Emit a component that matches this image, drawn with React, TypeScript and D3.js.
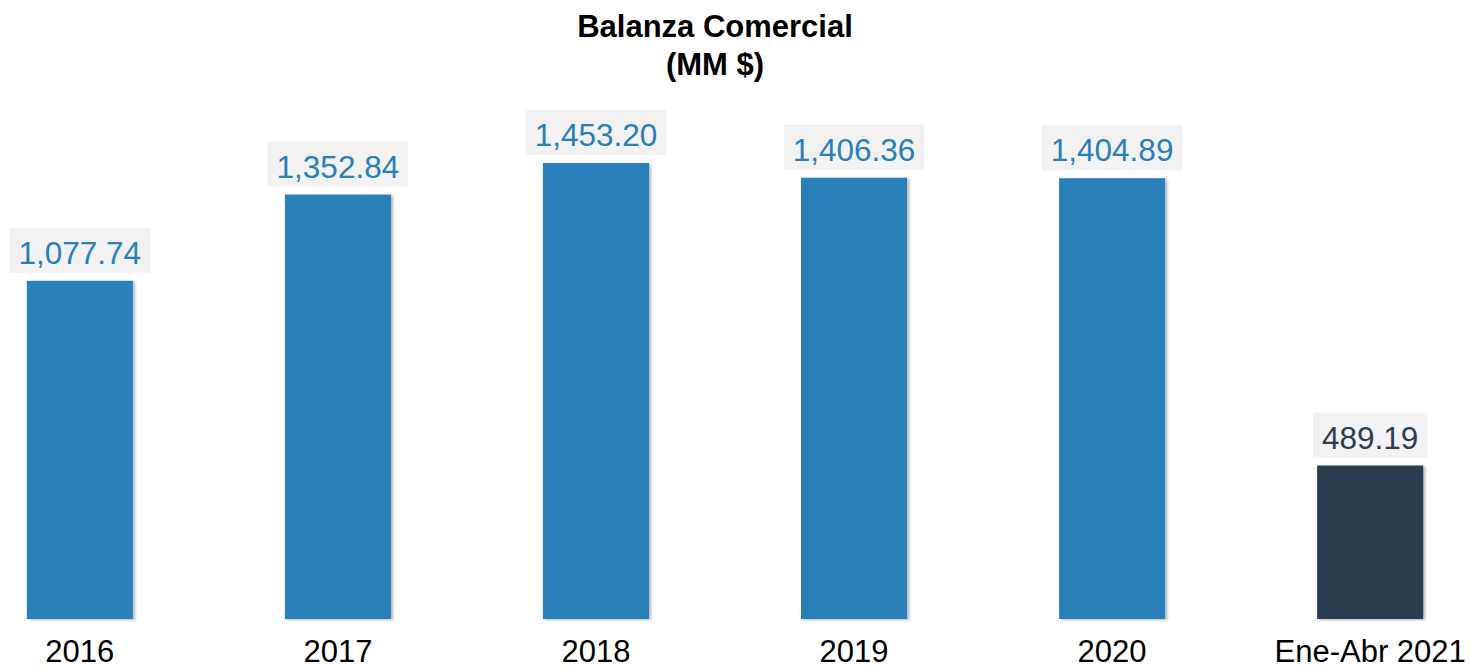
import React, { useEffect, useRef } from 'react';
import * as d3 from 'd3';

const categories = ['2016', '2017', '2018', '2019', '2020', 'Ene-Abr 2021'];
const values = [1077.74, 1352.84, 1453.2, 1406.36, 1404.89, 489.19];
const barColors = ['#2980b9', '#2980b9', '#2980b9', '#2980b9', '#2980b9', '#2c3e50'];
const labelColors = ['#2980b9', '#2980b9', '#2980b9', '#2980b9', '#2980b9', '#2c3e50'];
const titleLines = ['Balanza Comercial', '(MM $)'];

const App = () => {
  const chartRef = useRef<SVGSVGElement | null>(null);

  useEffect(() => {
    const width = 1471;
    const height = 670;
    const baseline = 619;
    const font = 'Arial, "Liberation Sans", Helvetica, sans-serif';

    const svg = d3.select(chartRef.current);
    svg.selectAll('*').remove();

    // shadow for bars
    const defs = svg.append('defs');
    const filter = defs
      .append('filter')
      .attr('id', 'barShadow')
      .attr('x', '-10%')
      .attr('y', '-10%')
      .attr('width', '130%')
      .attr('height', '130%');
    filter
      .append('feDropShadow')
      .attr('dx', 2)
      .attr('dy', 1)
      .attr('stdDeviation', 1.5)
      .attr('flood-color', '#000')
      .attr('flood-opacity', 0.3);

    const xScale = d3
      .scaleBand()
      .domain(categories)
      .range([1, 1449])
      .paddingInner(0.589)
      .paddingOuter(0.1);

    const yScale = d3.scaleLinear().domain([0, 1600]).range([baseline, 117]);

    const fmt = d3.format(',.2f');

    // Title
    svg
      .append('text')
      .attr('x', 715)
      .attr('y', 37)
      .attr('text-anchor', 'middle')
      .attr('font-family', font)
      .attr('font-weight', 'bold')
      .attr('font-size', 31)
      .attr('fill', '#000')
      .selectAll('tspan')
      .data(titleLines)
      .enter()
      .append('tspan')
      .attr('x', 715)
      .attr('dy', (d, i) => (i === 0 ? 0 : 38))
      .text((d) => d);

    // Bars
    svg
      .append('g')
      .selectAll('rect')
      .data(values)
      .enter()
      .append('rect')
      .attr('x', (d, i) => xScale(categories[i]) as number)
      .attr('y', (d) => yScale(d))
      .attr('width', xScale.bandwidth())
      .attr('height', (d) => baseline - yScale(d))
      .attr('fill', (d, i) => barColors[i])
      .attr('filter', 'url(#barShadow)');

    // Value labels with grey boxes
    const labels = svg
      .append('g')
      .selectAll('g')
      .data(values)
      .enter()
      .append('g');

    labels.append('rect').attr('fill', '#f2f2f2');

    labels
      .append('text')
      .attr('x', (d, i) => (xScale(categories[i]) as number) + xScale.bandwidth() / 2)
      .attr('y', (d) => yScale(d) - 17)
      .attr('text-anchor', 'middle')
      .attr('font-family', font)
      .attr('font-size', 31.5)
      .attr('fill', (d, i) => labelColors[i])
      .text((d) => fmt(d));

    labels.each(function (d, i) {
      const g = d3.select(this);
      const t = g.select('text').node() as SVGTextElement;
      const w = t.getComputedTextLength();
      const cx = (xScale(categories[i]) as number) + xScale.bandwidth() / 2;
      const top = yScale(d) - 8;
      g.select('rect')
        .attr('x', cx - w / 2 - 9)
        .attr('width', w + 18)
        .attr('y', top - 45)
        .attr('height', 45);
    });

    // Category axis labels
    svg
      .append('g')
      .selectAll('text')
      .data(categories)
      .enter()
      .append('text')
      .attr('x', (d) => (xScale(d) as number) + xScale.bandwidth() / 2)
      .attr('y', 662)
      .attr('text-anchor', 'middle')
      .attr('font-family', font)
      .attr('font-size', 31)
      .attr('fill', '#000')
      .text((d) => d);

    svg.attr('width', width).attr('height', height);
  }, []);

  return (
    <svg
      ref={chartRef}
      width={1471}
      height={670}
      style={{ position: 'absolute', left: 0, top: 0, background: '#fff' }}
    />
  );
};

export default App;
